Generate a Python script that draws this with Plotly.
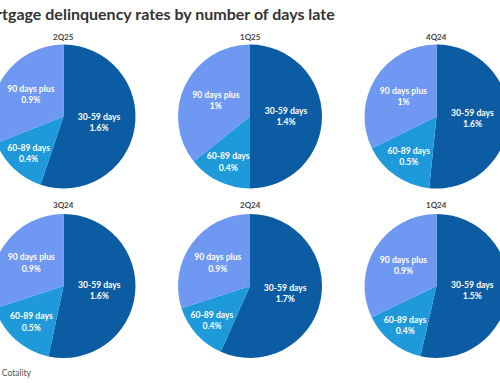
import plotly.graph_objects as go

quarters = ["2Q25", "1Q25", "4Q24", "3Q24", "2Q24", "1Q24"]
labels = ["30-59 days", "60-89 days", "90 days plus"]
days_30_59 = [1.6, 1.4, 1.6, 1.6, 1.7, 1.5]
days_60_89 = [0.4, 0.4, 0.5, 0.5, 0.4, 0.4]
days_90_plus = [0.9, 1, 1, 0.9, 0.9, 0.9]
colors = ["#0B5CA2", "#1E99D9", "#6E98F1"]

title_text = "Mortgage delinquency rates by number of days late"
source_text = "Source: Cotality"

W, H = 560, 383
SHIFT = 30
col_cx = [93.5, 280, 466.5]
row_cy = [116.5, 286]
R = 72
title_y = [37.5, 205.5]

fig = go.Figure()
for i, q in enumerate(quarters):
    r, c = divmod(i, 3)
    cx, cy = col_cx[c], row_cy[r]
    fig.add_trace(go.Pie(
        labels=labels,
        values=[days_30_59[i], days_60_89[i], days_90_plus[i]],
        sort=False,
        direction="clockwise",
        rotation=0,
        marker=dict(colors=colors, line=dict(width=0)),
        texttemplate="%{label}<br>%{value}%",
        textposition="inside",
        insidetextorientation="horizontal",
        insidetextfont=dict(family="Lato", size=9, color="white", weight="bold"),
        hoverinfo="label+value",
        showlegend=False,
        domain=dict(x=[(cx - R) / W, (cx + R) / W],
                    y=[(H - cy - R) / H, (H - cy + R) / H]),
    ))
    fig.add_annotation(text=q, x=cx / W, y=1 - title_y[r] / H, xref="paper", yref="paper",
                       xanchor="center", yanchor="middle", showarrow=False,
                       font=dict(family="Lato", size=8, color="#444444", weight="bold"))

fig.add_annotation(text=title_text, x=(SHIFT - 30) / W, y=1 - 14 / H, xref="paper", yref="paper",
                   xanchor="left", yanchor="middle", showarrow=False,
                   font=dict(family="Lato", size=16, color="#333333", weight="bold"))
fig.add_annotation(text=source_text, x=(SHIFT + 34) / W, y=1 - 373 / H, xref="paper", yref="paper",
                   xanchor="right", yanchor="middle", showarrow=False,
                   font=dict(family="Lato", size=8.5, color="#555555"))

fig.update_layout(width=W, height=H, margin=dict(l=0, r=0, t=0, b=0),
                  paper_bgcolor="white", plot_bgcolor="white",
                  uniformtext=dict(minsize=8.5, mode="show"))

post = ("document.body.style.margin='0';document.body.style.overflow='hidden';"
        "var gd=document.getElementById('{plot_id}');gd.style.marginLeft='-%dpx';" % SHIFT)
fig.write_html("out.html", post_script=post, config={"displayModeBar": False})
